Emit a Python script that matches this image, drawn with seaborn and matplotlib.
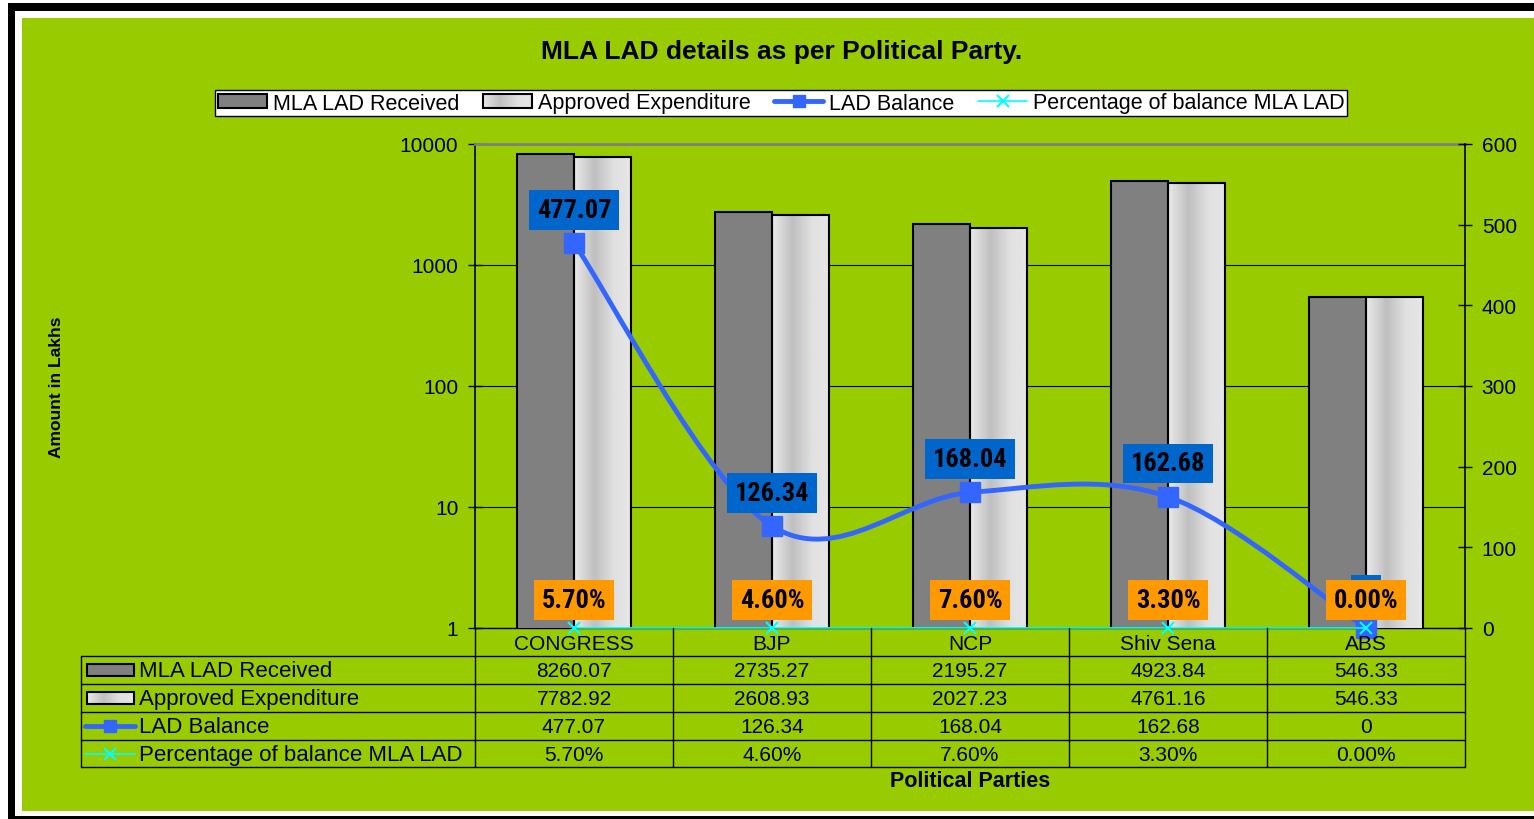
import numpy as np
import pandas as pd
import seaborn as sns
import matplotlib
matplotlib.use('Agg')
import matplotlib.pyplot as plt
from matplotlib.patches import Rectangle, PathPatch, Patch
from matplotlib.path import Path
from matplotlib.lines import Line2D
from matplotlib.legend_handler import HandlerBase
from matplotlib.ticker import NullLocator, FixedLocator
from matplotlib.transforms import blended_transform_factory
from matplotlib import font_manager

# ---------------- data ----------------
parties = ['CONGRESS', 'BJP', 'NCP', 'Shiv Sena', 'ABS']
received = [8260.07, 2735.27, 2195.27, 4923.84, 546.33]
approved = [7782.92, 2608.93, 2027.23, 4761.16, 546.33]
balance = [477.07, 126.34, 168.04, 162.68, 0]
pct_balance = [0.057, 0.046, 0.076, 0.033, 0.0]
series_names = ['MLA LAD Received', 'Approved Expenditure', 'LAD Balance',
                'Percentage of balance MLA LAD']
left_ticks = [1, 10, 100, 1000, 10000]
right_ticks = [0, 100, 200, 300, 400, 500, 600]
title = 'MLA LAD details as per Political Party.'
ylabel = 'Amount in Lakhs'
xlabel = 'Political Parties'

# ---------------- style ----------------
W, H = 1534, 820
GREEN = '#99CC00'
DARK = '#808080'
BLUE = '#3366FF'
LBLUE = '#0066CC'
CYAN = '#00FFFF'
ORANGE = '#FF9900'

sns.set_theme(style='white')
plt.rcParams['font.family'] = ['Liberation Sans', 'DejaVu Sans']
for k in ['text.color', 'axes.labelcolor', 'xtick.color', 'ytick.color', 'axes.edgecolor']:
    plt.rcParams[k] = 'black'

avail = {f.name for f in font_manager.fontManager.ttflist}
label_family, label_size = 'DejaVu Sans', 14.5
for fam, size in [('Liberation Sans Narrow', 19.5), ('Roboto Condensed', 19), ('DejaVu Sans Condensed', 16)]:
    if fam in avail:
        label_family, label_size = fam, size
        break

def fx(x):
    return x / W

def fy(y):
    return 1 - y / H

grad_pos = [0, 0.35, 0.7, 1]
grad_lev = [0.91, 0.75, 0.88, 0.90]

def grad_level(t):
    return float(np.interp(t, grad_pos, grad_lev))

fig = plt.figure(figsize=(W / 100, H / 100), dpi=100, facecolor='white')
# frame
fig.patches.append(Rectangle((fx(8), 0), 1, fy(4), transform=fig.transFigure,
                             facecolor='black', edgecolor='none', zorder=-5))
fig.patches.append(Rectangle((fx(15), fy(817)), 1, fy(12) - fy(817), transform=fig.transFigure,
                             facecolor='white', edgecolor='none', zorder=-4))
fig.patches.append(Rectangle((fx(22), fy(812)), 1, fy(19) - fy(812), transform=fig.transFigure,
                             facecolor=GREEN, edgecolor='none', zorder=-3))

ax = fig.add_axes([fx(475), fy(629), fx(1465) - fx(475), fy(145) - fy(629)])
ax.set_facecolor('none')

df = pd.DataFrame({
    'Party': parties * 2,
    'Series': [series_names[0]] * len(parties) + [series_names[1]] * len(parties),
    'Value': received + approved,
})
sns.barplot(data=df, x='Party', y='Value', hue='Series', palette=[DARK, '#D8D8D8'],
            width=0.576, edgecolor='black', linewidth=1.5, saturation=1,
            ax=ax, legend=False, zorder=3, err_kws={'linewidth': 0})
ax.set_yscale('log')

# gradient fill for the light bars
grad = np.tile(np.interp(np.linspace(0, 1, 64), grad_pos, grad_lev), (2, 1))
for bar in ax.containers[1]:
    x0, w, h = bar.get_x(), bar.get_width(), bar.get_height()
    im = ax.imshow(grad, cmap='gray', vmin=0, vmax=1, extent=[x0, x0 + w, 1, h],
                   aspect='auto', interpolation='bilinear', zorder=2.9)
    im.set_clip_path(bar)
    bar.set_facecolor('none')

ax.set_ylim(1, 10000)
ax.set_xlim(-0.5, len(parties) - 0.5)
ax.set_xlabel('')
ax.set_ylabel('')
ax.yaxis.set_major_locator(FixedLocator(left_ticks))
ax.yaxis.set_minor_locator(NullLocator())
ax.set_yticklabels([f'{t:g}' for t in left_ticks])
ax.tick_params(axis='y', direction='inout', length=10, width=1, pad=7, labelsize=15)
ax.tick_params(axis='x', bottom=False, labelbottom=False)
ax.yaxis.grid(True, color='black', linewidth=0.8)
ax.xaxis.grid(False)
ax.set_axisbelow(True)
ax.spines['left'].set_color('black')
ax.spines['left'].set_linewidth(1.2)
ax.spines['bottom'].set_color('black')
ax.spines['bottom'].set_linewidth(1)
ax.spines['top'].set_color('#808080')
ax.spines['top'].set_linewidth(2)
ax.spines['right'].set_visible(False)

# secondary axis
ax2 = ax.twinx()
ax2.set_ylim(0, 600)
ax2.yaxis.set_major_locator(FixedLocator(right_ticks))
ax2.set_yticklabels([f'{t:g}' for t in right_ticks])
ax2.tick_params(axis='y', direction='inout', length=10, width=1, pad=7, labelsize=15)
ax2.grid(False)
for s in ['left', 'top', 'bottom']:
    ax2.spines[s].set_visible(False)
ax2.spines['right'].set_color('black')
ax2.spines['right'].set_linewidth(1.2)

xs = np.arange(len(parties), dtype=float)
pts = np.column_stack([xs, np.asarray(balance, float)])
verts = [pts[0]]
codes = [Path.MOVETO]
for i in range(len(pts) - 1):
    p_prev = pts[i - 1] if i > 0 else pts[i]
    p_next = pts[i + 2] if i + 2 < len(pts) else pts[i + 1]
    c1 = pts[i] + (pts[i + 1] - p_prev) / 6
    c2 = pts[i + 1] - (p_next - pts[i]) / 6
    verts += [c1, c2, pts[i + 1]]
    codes += [Path.CURVE4] * 3
ax2.add_patch(PathPatch(Path(verts, codes), facecolor='none', edgecolor=BLUE,
                        lw=3.5, zorder=2, clip_on=False, capstyle='round'))
ax2.plot(xs, balance, ls='none', marker='s', ms=15, color=BLUE, zorder=3, clip_on=False)
ax2.plot(xs, pct_balance, color=CYAN, lw=1.2, marker='x', ms=9, mew=1.5,
         zorder=4, clip_on=False)

box_kw = dict(boxstyle='square,pad=0.3', ec='none')
for x, v in zip(xs, balance):
    ax2.annotate(f'{v:g}', (x, v), xytext=(0, 24), textcoords='offset points',
                 ha='center', va='center', fontsize=label_size, fontweight='bold',
                 family=label_family, color='black', zorder=5, annotation_clip=False,
                 bbox=dict(fc=LBLUE, **box_kw))
for x, p in zip(xs, pct_balance):
    ax2.annotate(f'{p:.2%}', (x, p), xytext=(0, 20), textcoords='offset points',
                 ha='center', va='center', fontsize=label_size, fontweight='bold',
                 family=label_family, color='black', zorder=6, annotation_clip=False,
                 bbox=dict(fc=ORANGE, **box_kw))

# ---------------- titles ----------------
fig.text(fx(782), fy(52), title, ha='center', va='center', fontsize=19, fontweight='bold')
fig.text(fx(57), fy(387), ylabel, ha='center', va='center', rotation=90,
         fontsize=12.5, fontweight='bold')
fig.text(fx(970), fy(782), xlabel, ha='center', va='center', fontsize=15.5, fontweight='bold')

# ---------------- legend ----------------
class GradHandler(HandlerBase):
    def create_artists(self, legend, orig_handle, xdescent, ydescent, width, height,
                       fontsize, trans):
        arts = []
        n = 24
        for k in range(n):
            g = grad_level((k + 0.5) / n)
            arts.append(Rectangle((-xdescent + width * k / n, -ydescent), width / n * 1.05,
                                  height, fc=(g, g, g), ec='none', transform=trans))
        arts.append(Rectangle((-xdescent, -ydescent), width, height, fc='none',
                              ec='black', lw=1.5, transform=trans))
        return arts

h_dark = Patch(facecolor=DARK, edgecolor='black', linewidth=1.5)
h_light = Patch(facecolor='#D8D8D8', edgecolor='black', linewidth=1.5)
h_bal = Line2D([], [], color=BLUE, lw=3.5, marker='s', ms=9)
h_pct = Line2D([], [], color=CYAN, lw=1.2, marker='x', ms=8, mew=1.5)
leg = fig.legend([h_dark, h_light, h_bal, h_pct], series_names, loc='center',
                 bbox_to_anchor=(fx(781), fy(104)), ncol=4, frameon=True, fancybox=False,
                 edgecolor='black', facecolor='white', framealpha=1, fontsize=15.5,
                 handlelength=2.3, handleheight=0.6, handletextpad=0.25,
                 columnspacing=1.1, borderpad=0.12, borderaxespad=0,
                 handler_map={h_light: GradHandler()})
leg.get_frame().set_linewidth(1)

# ---------------- data table ----------------
bt = blended_transform_factory(ax.transData, fig.transFigure)
tf = fig.transFigure
row_lines = [657, 685, 713, 741, 768]
hdr_top = 629
tab_left = 81
x_bounds = np.arange(len(parties) + 1) - 0.5

for yl in row_lines:
    fig.add_artist(Line2D([fx(tab_left), fx(1465)], [fy(yl), fy(yl)], transform=tf,
                          color='black', lw=1))
fig.add_artist(Line2D([fx(tab_left), fx(tab_left)], [fy(row_lines[0]), fy(row_lines[-1])],
                      transform=tf, color='black', lw=1))
for xb in x_bounds:
    fig.add_artist(Line2D([xb, xb], [fy(hdr_top), fy(row_lines[-1])], transform=bt,
                          color='black', lw=1))

for x, name in zip(xs, parties):
    fig.text(x, fy((hdr_top + row_lines[0]) / 2 + 1), name, transform=bt, ha='center',
             va='center', fontsize=15)

table_rows = [
    [f'{v:g}' for v in received],
    [f'{v:g}' for v in approved],
    [f'{v:g}' for v in balance],
    [f'{p:.2%}' for p in pct_balance],
]
for r, vals in enumerate(table_rows):
    yc = fy((row_lines[r] + row_lines[r + 1]) / 2 + 1)
    for x, s in zip(xs, vals):
        fig.text(x, yc, s, transform=bt, ha='center', va='center', fontsize=15)
    fig.text(fx(139), yc, series_names[r], transform=tf, ha='left', va='center', fontsize=16)

# table icons
def icon_y(r):
    return (row_lines[r] + row_lines[r + 1]) / 2

ic_l, ic_r = 87, 134
yc0 = icon_y(0)
fig.add_artist(Rectangle((fx(ic_l), fy(yc0 + 6)), fx(ic_r) - fx(ic_l), fy(yc0 - 6) - fy(yc0 + 6),
                         transform=tf, fc=DARK, ec='black', lw=1.5))
yc1 = icon_y(1)
n = 24
for k in range(n):
    g = grad_level((k + 0.5) / n)
    xa = ic_l + (ic_r - ic_l) * k / n
    fig.add_artist(Rectangle((fx(xa), fy(yc1 + 6)), (fx(ic_r) - fx(ic_l)) / n * 1.05,
                             fy(yc1 - 6) - fy(yc1 + 6), transform=tf, fc=(g, g, g), ec='none'))
fig.add_artist(Rectangle((fx(ic_l), fy(yc1 + 6)), fx(ic_r) - fx(ic_l), fy(yc1 - 6) - fy(yc1 + 6),
                         transform=tf, fc='none', ec='black', lw=1.5))
yc2 = icon_y(2)
fig.add_artist(Line2D([fx(85), fx(110), fx(135)], [fy(yc2)] * 3, transform=tf, color=BLUE,
                      lw=3.5, marker='s', ms=9, markevery=[1]))
yc3 = icon_y(3)
fig.add_artist(Line2D([fx(85), fx(110), fx(135)], [fy(yc3)] * 3, transform=tf, color=CYAN,
                      lw=1.2, marker='x', ms=8, mew=1.5, markevery=[1]))

fig.savefig('out.png', dpi=100, facecolor='white')
